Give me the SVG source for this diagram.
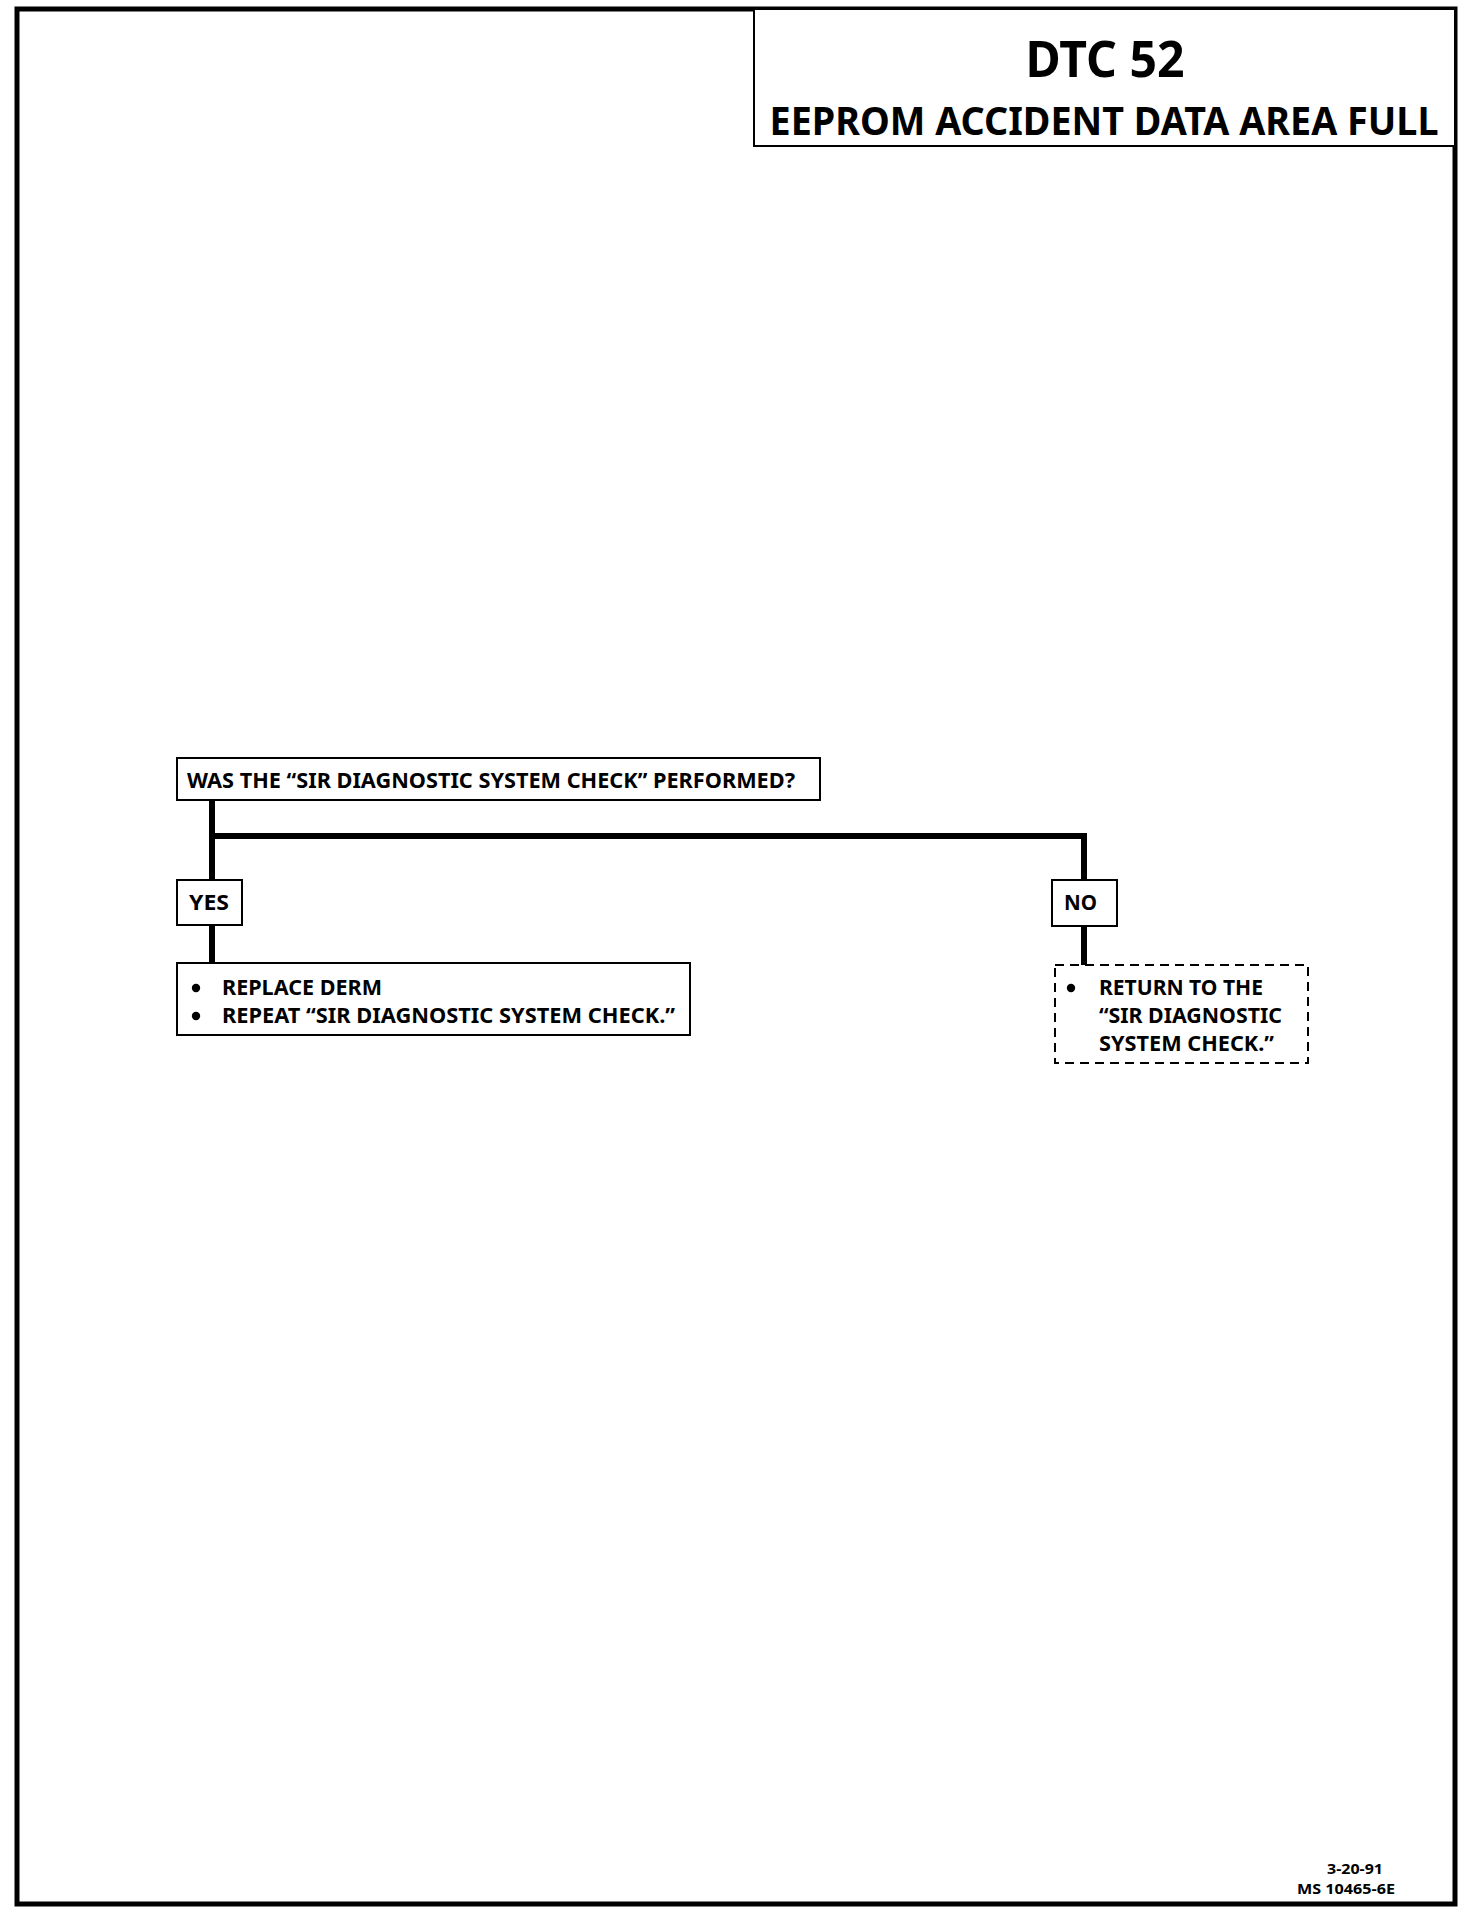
<svg xmlns="http://www.w3.org/2000/svg" width="1472" height="1914" viewBox="0 0 1472 1914">
<style>
text{font-family:"Noto Sans","Open Sans","Liberation Sans",sans-serif;font-weight:bold;fill:#000}
.box{fill:#fff;stroke:#000;stroke-width:2}
.dash{fill:#fff;stroke:#000;stroke-width:2;stroke-dasharray:9 6}
.conn{fill:none;stroke:#000;stroke-width:6}
.t{font-size:21px}
</style>
<rect x="0" y="0" width="1472" height="1914" fill="#fff"/>
<rect id="frame" x="17" y="9" width="1438" height="1895" fill="none" stroke="#000" stroke-width="5"/>
<g id="title">
<rect class="box" x="754" y="9" width="701" height="137"/>
<text x="1105" y="77" font-size="50" text-anchor="middle" textLength="159" lengthAdjust="spacingAndGlyphs">DTC 52</text>
<text x="1104" y="135" font-size="39" text-anchor="middle" textLength="669" lengthAdjust="spacingAndGlyphs">EEPROM ACCIDENT DATA AREA FULL</text>
</g>
<g id="connectors">
<polyline class="conn" points="212,800 212,880"/>
<polyline class="conn" points="212,836 1084,836 1084,880"/>
<line class="conn" x1="212" y1="925" x2="212" y2="963"/>
<line class="conn" x1="1084" y1="926" x2="1084" y2="965"/>
</g>
<g id="question">
<rect class="box" x="177" y="758" width="643" height="42"/>
<text class="t" x="187" y="788" textLength="608" lengthAdjust="spacingAndGlyphs">WAS THE “SIR DIAGNOSTIC SYSTEM CHECK” PERFORMED?</text>
</g>
<g id="yes">
<rect class="box" x="177" y="880" width="65" height="45"/>
<text class="t" x="189" y="910" textLength="40" lengthAdjust="spacingAndGlyphs">YES</text>
</g>
<g id="no">
<rect class="box" x="1052" y="880" width="65" height="46"/>
<text class="t" x="1064" y="910" textLength="33" lengthAdjust="spacingAndGlyphs">NO</text>
</g>
<g id="replace">
<rect class="box" x="177" y="963" width="513" height="72"/>
<circle cx="196" cy="988" r="4.2"/>
<circle cx="196" cy="1016" r="4.2"/>
<text class="t" x="222" y="995" textLength="160" lengthAdjust="spacingAndGlyphs">REPLACE DERM</text>
<text class="t" x="222" y="1023" textLength="453" lengthAdjust="spacingAndGlyphs">REPEAT “SIR DIAGNOSTIC SYSTEM CHECK.”</text>
</g>
<g id="return">
<rect class="dash" x="1055" y="965" width="253" height="98"/>
<circle cx="1071" cy="988" r="4.2"/>
<text class="t" x="1099" y="995" textLength="164" lengthAdjust="spacingAndGlyphs">RETURN TO THE</text>
<text class="t" x="1099" y="1023" textLength="183" lengthAdjust="spacingAndGlyphs">“SIR DIAGNOSTIC</text>
<text class="t" x="1099" y="1051" textLength="175" lengthAdjust="spacingAndGlyphs">SYSTEM CHECK.”</text>
</g>
<g id="footer">
<text x="1355" y="1874" font-size="15" text-anchor="middle" textLength="56" lengthAdjust="spacingAndGlyphs">3-20-91</text>
<text x="1346" y="1894" font-size="15" text-anchor="middle" textLength="98" lengthAdjust="spacingAndGlyphs">MS 10465-6E</text>
</g>
</svg>
